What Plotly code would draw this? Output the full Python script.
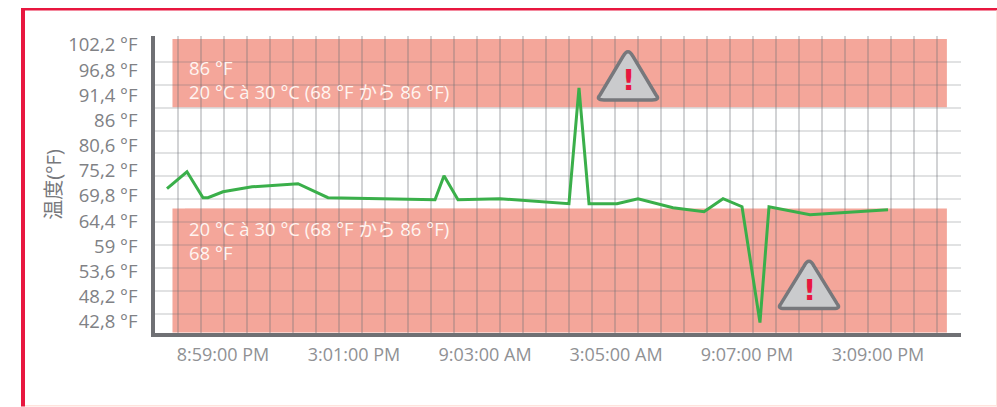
import plotly.graph_objects as go

# Data
minutes = [-0.855, -0.55, -0.305, -0.23, 0, 0.443, 1.145, 1.603, 3.237, 3.374, 3.588, 4.229,
           5.282, 5.435, 5.588, 6.015, 6.336, 6.870, 7.344, 7.634, 7.924, 8.198, 8.336, 8.962, 10.153]
temperature = [71.35, 74.99, 69.42, 69.42, 70.7, 71.77, 72.42, 69.42, 68.99, 74.13, 68.99, 69.2,
               68.13, 92.99, 68.13, 68.13, 69.2, 67.27, 66.42, 69.2, 67.49, 42.63, 67.49, 65.77, 66.85]
x_tick_pos = [0, 2, 4, 6, 8, 10]
x_tick_labels = ["8:59:00 PM", "3:01:00 PM", "9:03:00 AM", "3:05:00 AM", "9:07:00 PM", "3:09:00 PM"]
y_tick_pos = [102.2, 96.8, 91.4, 86, 80.6, 75.2, 69.8, 64.4, 59, 53.6, 48.2, 42.8]
y_tick_labels = ["102,2 °F", "96,8 °F", "91,4 °F", "86 °F", "80,6 °F", "75,2 °F",
                 "69,8 °F", "64,4 °F", "59 °F", "53,6 °F", "48,2 °F", "42,8 °F"]
grid_columns = list(range(34))
high_band = [91.5, 107.6]
low_band = [38.3, 67.6]
band_columns = [-0.24, 33.43]

W, H = 997, 407
L, R, T, B = 155, 961, 36, 333.5
PW, PH = R - L, B - T
GREY = "#6F7074"
BAND = "#F4A69A"
RED = "#E8173F"


def X(p):
    return (p - L) / PW


def Y(p):
    return (B - p) / PH


def pshape(x0, y0, x1, y1, color, layer="above"):
    return dict(type="rect", xref="paper", yref="paper", x0=X(x0), x1=X(x1), y0=Y(y0), y1=Y(y1),
                fillcolor=color, line=dict(width=0), layer=layer)


def triangle(cx, top, base, half):
    r = 5
    pts = [
        f"M {X(cx - r)} {Y(top + r * 1.5)}",
        f"Q {X(cx)} {Y(top - r * 0.4)} {X(cx + r)} {Y(top + r * 1.5)}",
        f"L {X(cx + half - r * 0.4)} {Y(base - r)}",
        f"Q {X(cx + half + r * 0.5)} {Y(base)} {X(cx + half - r * 1.2)} {Y(base)}",
        f"L {X(cx - half + r * 1.2)} {Y(base)}",
        f"Q {X(cx - half - r * 0.5)} {Y(base)} {X(cx - half + r * 0.4)} {Y(base - r)}",
        "Z",
    ]
    return dict(type="path", xref="paper", yref="paper", path=" ".join(pts),
                fillcolor="#CACBCD", line=dict(color="#77787C", width=3.5), layer="above")


fig = go.Figure()
fig.add_trace(go.Scatter(x=minutes, y=temperature, mode="lines", xaxis="x", yaxis="y",
                         line=dict(color="#3AAF4A", width=3), showlegend=False, hoverinfo="skip"))

shapes = [
    dict(type="rect", xref="x2", yref="y2", x0=band_columns[0], x1=band_columns[1],
         y0=high_band[0], y1=high_band[1], fillcolor=BAND, line=dict(width=0), layer="below"),
    dict(type="rect", xref="x2", yref="y2", x0=band_columns[0], x1=band_columns[1],
         y0=low_band[0], y1=low_band[1], fillcolor=BAND, line=dict(width=0), layer="below"),
    pshape(185, 57, 490, 107, BAND, "between"),
    pshape(185, 209, 490, 263, BAND, "between"),
    triangle(628, 49, 100, 30),
    triangle(809, 259, 309, 30),
    pshape(21, 8, 25, 407, RED),
    pshape(21, 8, 997, 10.5, RED),
    pshape(25, 405.5, 997, 407, "#FFE3DD"),
    pshape(996, 10.5, 997, 407, "#FFE3DD"),
]


def note(px, py, text):
    return dict(xref="paper", yref="paper", x=X(px), y=Y(py), text=text, showarrow=False, xanchor="left",
                yanchor="middle", align="left",
                font=dict(family="Open Sans, Noto Sans CJK JP", size=18.5, color="#FFF4F0"))


def bang(px, py):
    return dict(xref="paper", yref="paper", x=X(px), y=Y(py), text="<b>!</b>", showarrow=False,
                xanchor="center", yanchor="middle",
                font=dict(family="DejaVu Sans", size=29, color=RED))


range_text = "20 °C à 30 °C (68 °F から 86 °F)"
annotations = [
    note(187, 80, "86 °F<br>" + range_text),
    note(187, 241, range_text + "<br>68 °F"),
    bang(628, 80), bang(809, 290),
]

fig.update_layout(
    width=W, height=H,
    margin=dict(l=L, r=W - R, t=T, b=H - B, pad=0),
    paper_bgcolor="white", plot_bgcolor="white", showlegend=False,
    font=dict(family="Open Sans, Noto Sans CJK JP", color="#808185"),
    xaxis=dict(range=[(L - 223) / 65.5, (R - 223) / 65.5], tickmode="array", tickvals=x_tick_pos,
               ticktext=x_tick_labels, showgrid=False, zeroline=False, showline=True, linecolor=GREY,
               linewidth=3.5, ticks="outside", ticklen=3, tickcolor="rgba(0,0,0,0)",
               tickfont=dict(size=18, color="#909194")),
    yaxis=dict(range=[102.2 - (B - 45) * 0.21427, 102.2 + (45 - T) * 0.21427], tickmode="array",
               tickvals=y_tick_pos, ticktext=y_tick_labels, showgrid=False, zeroline=False, showline=True,
               linecolor=GREY, linewidth=3.5, ticks="outside", ticklen=10, tickcolor="rgba(0,0,0,0)",
               tickfont=dict(size=18.5, color="#808185"),
               title=dict(text="温度(°F)", standoff=2, font=dict(size=20, color="#77787C"))),
    xaxis2=dict(overlaying="x", anchor="y2", side="bottom", range=[(L - 178) / 23, (R - 178) / 23],
                tickmode="array", tickvals=grid_columns, showticklabels=False, showgrid=True,
                gridcolor="rgba(105,108,115,0.3)", gridwidth=2, zeroline=False, ticks=""),
    yaxis2=dict(overlaying="y", anchor="x2", side="left", range=[102.2 - (B - 62) / 4.2424, 102.2 + (62 - T) / 4.2424],
                tickmode="array", tickvals=y_tick_pos, showticklabels=False, showgrid=True,
                gridcolor="rgba(105,108,115,0.2)", gridwidth=2, zeroline=False, ticks=""),
    shapes=shapes, annotations=annotations,
)
fig.add_trace(go.Scatter(x=[], y=[], xaxis="x2", yaxis="y2", showlegend=False, hoverinfo="skip"))

fig.write_html("out.html", config=dict(displayModeBar=False),
               post_script="document.body.style.margin='0';document.body.style.overflow='hidden';")
